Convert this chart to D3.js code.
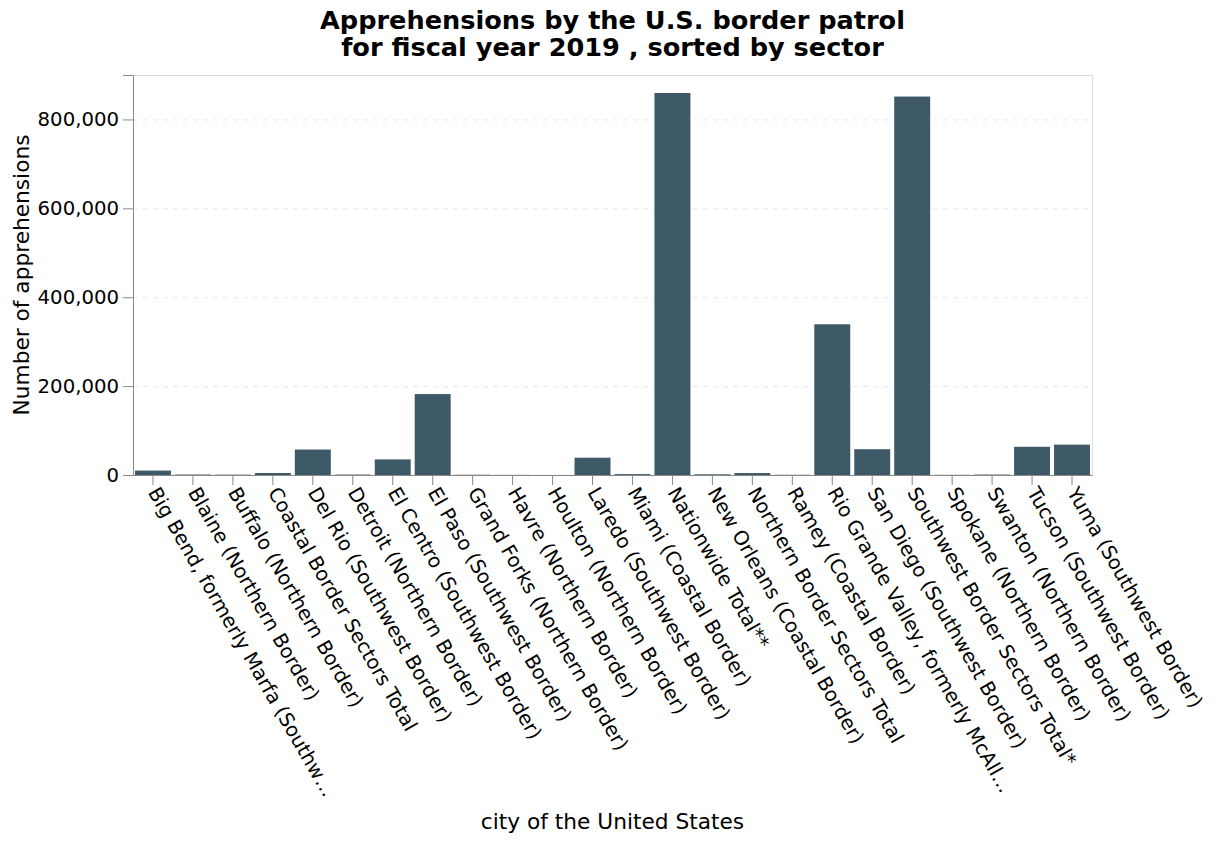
<!DOCTYPE html>
<html>
<head>
<meta charset="utf-8">
<script src="https://cdn.jsdelivr.net/npm/d3@7"></script>
<style>
  body { margin: 0; background: #fff; }
  text { font-family: "DejaVu Sans", sans-serif; fill: #000; }
</style>
</head>
<body>
<div id="chart"><svg id="svg"></svg></div>
<script>
const sectors = [
  'Big Bend, formerly Marfa (Southwest Border)',
  'Blaine (Northern Border)',
  'Buffalo (Northern Border)',
  'Coastal Border Sectors Total',
  'Del Rio (Southwest Border)',
  'Detroit (Northern Border)',
  'El Centro (Southwest Border)',
  'El Paso (Southwest Border)',
  'Grand Forks (Northern Border)',
  'Havre (Northern Border)',
  'Houlton (Northern Border)',
  'Laredo (Southwest Border)',
  'Miami (Coastal Border)',
  'Nationwide Total**',
  'New Orleans (Coastal Border)',
  'Northern Border Sectors Total',
  'Ramey (Coastal Border)',
  'Rio Grande Valley, formerly McAllen (Southwest Border)',
  'San Diego (Southwest Border)',
  'Southwest Border Sectors Total*',
  'Spokane (Northern Border)',
  'Swanton (Northern Border)',
  'Tucson (Southwest Border)',
  'Yuma (Southwest Border)'
];
const apprehensions = [
  10000, 1100, 800, 4500, 57300, 1000, 35100, 182100, 600, 300, 100, 38900,
  2000, 859500, 1600, 4400, 500, 339100, 58000, 851500, 400, 1000, 63500, 68300
];
const yTicks = [0, 200000, 400000, 600000, 800000];

const titleLines = ['Apprehensions by the U.S. border patrol', 'for fiscal year 2019 , sorted by sector'];

const data = sectors.map((s, i) => ({sector: s, value: apprehensions[i]}));

const margin = {top: 75, right: 124, bottom: 367, left: 133};
const width = 1216 - margin.left - margin.right;
const height = 842 - margin.top - margin.bottom;

const svg = d3.select('#svg')
  .attr('width', 1216)
  .attr('height', 842);

const g = svg.append('g')
  .attr('transform', 'translate(' + margin.left + ',' + margin.top + ')');

// x scale
const x = d3.scaleBand()
  .domain(sectors)
  .range([0, width])
  .paddingInner(0.1)
  .paddingOuter(0.05);

// y scale
const y = d3.scaleLinear()
  .domain([0, 900000])
  .range([height, 0]);

// view frame
g.append('rect')
  .attr('x', 0.5)
  .attr('y', 0.5)
  .attr('width', width)
  .attr('height', height)
  .attr('fill', 'none')
  .attr('stroke', '#ddd');

// grid
g.append('g')
  .selectAll('line')
  .data(yTicks.slice(1))
  .join('line')
    .attr('x1', 0)
    .attr('x2', width)
    .attr('y1', d => y(d) + 0.5)
    .attr('y2', d => y(d) + 0.5)
    .attr('stroke', '#e8e8e8')
    .attr('stroke-dasharray', '5,5');

// bars
g.append('g')
  .selectAll('rect')
  .data(data)
  .join('rect')
    .attr('x', d => x(d.sector))
    .attr('width', x.bandwidth())
    .attr('y', d => y(d.value))
    .attr('height', d => height - y(d.value))
    .attr('fill', '#3e5a69');

// y axis
const yAxis = g.append('g')
  .call(d3.axisLeft(y).tickValues(yTicks).tickFormat(d3.format(',')).tickSize(10).tickPadding(4));
yAxis.selectAll('line, path').attr('stroke', '#888');
yAxis.selectAll('text').style('font-size', '19.7px').style('font-family', '"DejaVu Sans"');

// x axis
const labelLimit = 355;
const xAxis = g.append('g')
  .attr('transform', 'translate(0,' + height + ')')
  .call(d3.axisBottom(x).tickSize(10).tickSizeOuter(0));
xAxis.select('.domain').attr('stroke', '#888');
xAxis.selectAll('.tick line').attr('stroke', '#888');
xAxis.selectAll('.tick text')
  .style('font-size', '19.7px')
  .style('font-family', '"DejaVu Sans"')
  .attr('y', 0)
  .attr('dy', '0.32em')
  .attr('text-anchor', 'start')
  .attr('transform', 'translate(0,14) rotate(60)')
  .each(function() {
    const t = d3.select(this);
    let s = t.text();
    if (this.getComputedTextLength() > labelLimit) {
      while (s.length > 0 && this.getComputedTextLength() > labelLimit) {
        s = s.slice(0, -1);
        t.text(s + '…');
      }
    }
  });

// axis titles
g.append('text')
  .attr('x', width / 2)
  .attr('y', height + 354)
  .attr('text-anchor', 'middle')
  .style('font-size', '21.7px')
  .text('city of the United States');

g.append('text')
  .attr('transform', 'translate(' + (-104) + ',' + (height / 2) + ') rotate(-90)')
  .attr('text-anchor', 'middle')
  .style('font-size', '21.7px')
  .text('Number of apprehensions');

// title
svg.append('g')
  .selectAll('text')
  .data(titleLines)
  .join('text')
    .attr('x', margin.left + width / 2)
    .attr('y', (d, i) => 28.5 + i * 27)
    .attr('text-anchor', 'middle')
    .style('font-size', '25.6px')
    .style('font-weight', 'bold')
    .text(d => d);
</script>
</body>
</html>
